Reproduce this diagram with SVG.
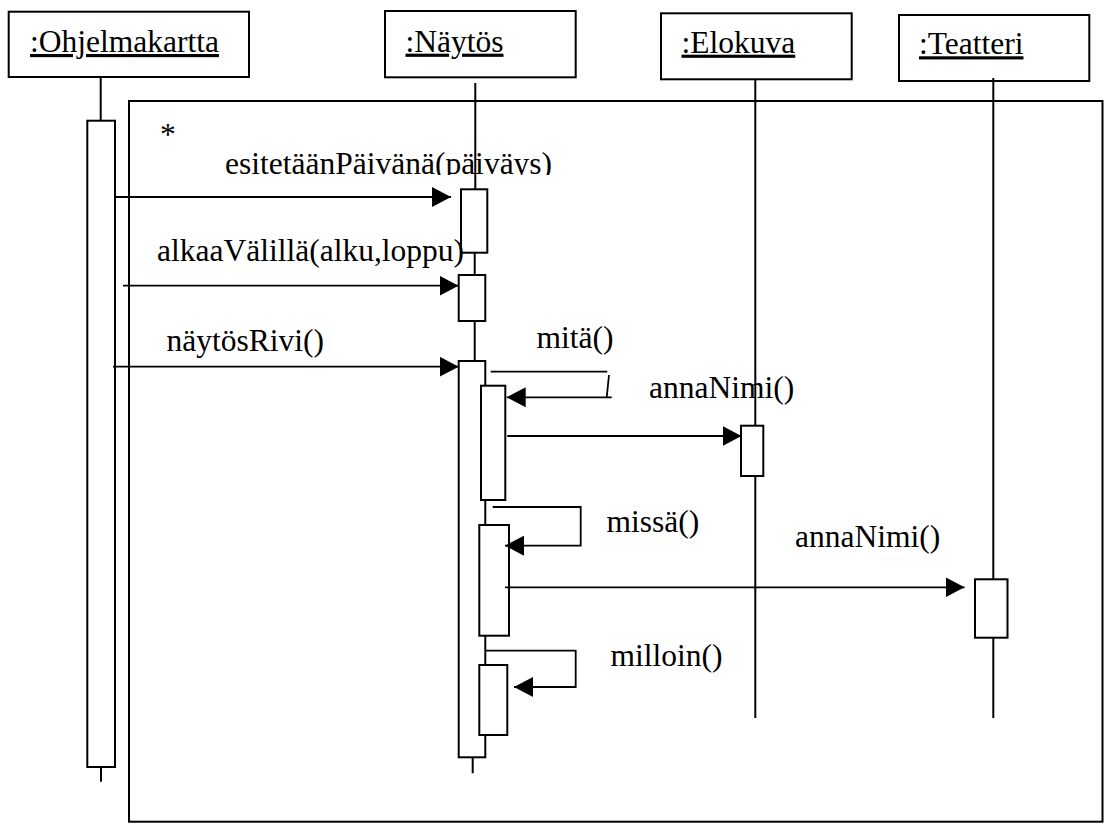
<svg xmlns="http://www.w3.org/2000/svg" width="1104" height="825" viewBox="0 0 1104 825">
<style>
.box{fill:#fff;stroke:#000;stroke-width:2}
.act{fill:#fff;stroke:#000;stroke-width:2}
.ln{fill:none;stroke:#000;stroke-width:2}
.msg{fill:none;stroke:#000;stroke-width:1.8}
.arr{marker-end:url(#ah)}
text{font-family:"Liberation Serif","Times New Roman",serif;font-size:31.5px;fill:#000}
.u{text-decoration:underline}
</style>
<defs>
<marker id="ah" markerUnits="userSpaceOnUse" markerWidth="20" markerHeight="20" refX="19" refY="10" orient="auto">
<path d="M0,0 L19,10 L0,20 Z" fill="#000"/>
</marker>
<clipPath id="clip1"><rect x="0" y="0" width="1104" height="175"/></clipPath>
</defs>
<rect width="1104" height="825" fill="#fff"/>
<g id="frame">
<rect class="ln" x="129" y="101" width="973.5" height="720.7"/>
<text x="160" y="145">*</text>
</g>
<g id="ohjelmakartta">
<rect class="box" x="8.7" y="11.7" width="240.3" height="65.3"/>
<text class="u" x="30" y="52">:Ohjelmakartta</text>
<path class="ln" d="M100.7,77 V120.7 M101,767 V781.7"/>
<rect class="act" x="87.3" y="120.7" width="27.7" height="646.3"/>
</g>
<g id="naytos">
<rect class="box" x="385" y="11" width="190.7" height="66.3"/>
<text class="u" x="405.5" y="51.7">:Näytös</text>
<path class="ln" d="M475.3,83 V189.3 M474.7,252.7 V275 M474.7,321 V361 M472.7,757.3 V773.3"/>
<rect class="act" x="461" y="189.3" width="26.3" height="63.4"/>
<rect class="act" x="458.7" y="275" width="26.6" height="46"/>
<rect class="act" x="458.7" y="361" width="26.6" height="396.3"/>
<rect class="act" x="481" y="385.7" width="24.3" height="114.3"/>
<rect class="act" x="479.3" y="525" width="29.7" height="110.7"/>
<rect class="act" x="479.3" y="665" width="28" height="70"/>
</g>
<g id="elokuva">
<rect class="box" x="661" y="13.3" width="190.7" height="66"/>
<text class="u" x="681.5" y="52.7">:Elokuva</text>
<path class="ln" d="M755.3,79.3 V718"/>
<rect class="act" x="741" y="425.7" width="22.3" height="50.3"/>
</g>
<g id="teatteri">
<rect class="box" x="899" y="15" width="190.3" height="66"/>
<text class="u" x="919" y="54.3">:Teatteri</text>
<path class="ln" d="M993.3,78 V718"/>
<rect class="act" x="975" y="579.3" width="32.5" height="58.4"/>
</g>
<g id="connectors">
<path class="msg arr" d="M115,197 H451"/>
<path class="msg arr" d="M123,285.7 H458.5"/>
<path class="msg arr" d="M113,366.7 H458.7"/>
<path class="msg" d="M490.7,371.7 H607.3 M609,375 L606.7,397.3"/>
<path class="msg arr" d="M611.7,397.3 H506.7"/>
<path class="msg arr" d="M507.3,436 H741.5"/>
<path class="msg arr" d="M492.7,507 H580.7 V545.7 H505"/>
<path class="msg arr" d="M505,587.3 H964.5"/>
<path class="msg arr" d="M485,650.7 H575.7 V687 H514"/>
<text x="225" y="173.5" clip-path="url(#clip1)">esitetäänPäivänä(päiväys)</text>
<text x="157" y="260.7">alkaaVälillä(alku,loppu)</text>
<text x="166.5" y="351">näytösRivi()</text>
<text x="536.5" y="348.3">mitä()</text>
<text x="649" y="398.3">annaNimi()</text>
<text x="606.5" y="531.7">missä()</text>
<text x="795" y="546.7">annaNimi()</text>
<text x="610.5" y="666">milloin()</text>
</g>
</svg>
